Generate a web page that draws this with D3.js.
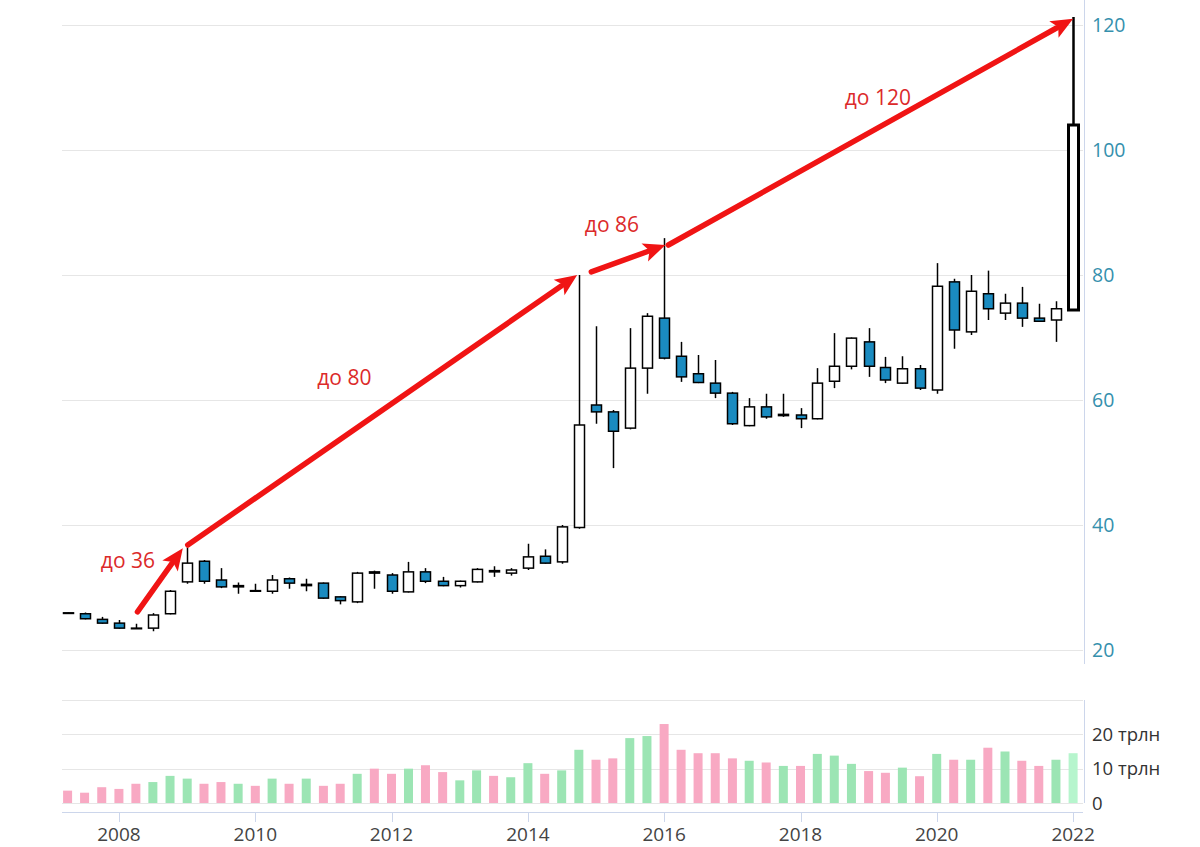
<!DOCTYPE html>
<html>
<head>
<meta charset="utf-8">
<script src="https://cdn.jsdelivr.net/npm/d3@7"></script>
<style>
  html, body { margin: 0; padding: 0; background: #fff; }
  svg { display: block; }
</style>
</head>
<body>
<div id="chart"></div>
<script>
// ---------- DATA ----------
const quarters = [
  "2007-04-01","2007-07-01","2007-10-01",
  "2008-01-01","2008-04-01","2008-07-01","2008-10-01",
  "2009-01-01","2009-04-01","2009-07-01","2009-10-01",
  "2010-01-01","2010-04-01","2010-07-01","2010-10-01",
  "2011-01-01","2011-04-01","2011-07-01","2011-10-01",
  "2012-01-01","2012-04-01","2012-07-01","2012-10-01",
  "2013-01-01","2013-04-01","2013-07-01","2013-10-01",
  "2014-01-01","2014-04-01","2014-07-01","2014-10-01",
  "2015-01-01","2015-04-01","2015-07-01","2015-10-01",
  "2016-01-01","2016-04-01","2016-07-01","2016-10-01",
  "2017-01-01","2017-04-01","2017-07-01","2017-10-01",
  "2018-01-01","2018-04-01","2018-07-01","2018-10-01",
  "2019-01-01","2019-04-01","2019-07-01","2019-10-01",
  "2020-01-01","2020-04-01","2020-07-01","2020-10-01",
  "2021-01-01","2021-04-01","2021-07-01","2021-10-01",
  "2022-01-01"
];
const opens  = [25.95,25.8,24.9, 24.3,23.5,23.5,25.8, 30.9,34.2,31.2,30.1, 29.5,29.4,31.4,30.3, 30.7,28.5,27.7,32.5,
                32.0,29.3,32.5,31.0, 30.3,30.9,32.7,32.3, 33.1,35.0,34.1,39.6, 59.2,58.1,55.5,65.1, 73.1,67.0,64.2,62.7,
                61.1,55.9,58.9,57.5, 57.6,57.0,63.0,65.4, 69.3,65.2,62.7,65.0, 61.6,78.9,70.9,77.0, 73.9,75.5,73.1,72.8, 74.4];
const highs  = [26.0,26.0,25.3, 24.8,24.2,25.9,29.6, 36.4,34.4,33.1,30.8, 30.6,32.0,31.6,31.4, 30.8,28.6,32.5,32.7,
                32.3,34.1,33.1,31.7, 31.1,33.1,33.4,33.1, 37.0,36.1,40.0,80.0, 71.8,58.4,71.5,73.9, 85.9,69.3,67.2,66.4,
                61.3,60.3,61.0,61.0, 58.7,65.1,70.7,70.0, 71.5,66.9,67.0,65.6, 81.9,79.4,80.0,80.7, 77.0,78.1,75.4,75.8, 121.3];
const lows   = [25.8,24.9,24.2, 23.4,23.4,23.0,25.7, 30.6,30.6,29.9,29.0, 29.3,29.0,29.8,29.4, 28.2,27.3,27.5,29.8,
                29.0,29.2,30.7,30.2, 30.0,30.8,31.7,31.9, 32.8,33.8,33.8,39.4, 56.2,49.1,55.3,61.0, 66.5,62.9,62.7,60.3,
                56.0,55.8,57.0,57.3, 55.5,56.9,61.9,64.9, 63.7,62.7,62.6,61.6, 61.0,68.2,70.4,72.8, 72.8,71.7,72.5,69.3, 74.4];
const closes = [25.85,25.0,24.3, 23.5,23.4,25.6,29.4, 33.9,31.0,30.1,30.3, 29.4,31.2,30.7,30.5, 28.3,27.9,32.3,32.3,
                29.4,32.5,31.0,30.3, 31.0,32.9,32.5,32.8, 34.9,33.9,39.7,56.0, 58.1,55.0,65.1,73.4, 66.7,63.7,62.8,61.1,
                56.2,58.9,57.3,57.7, 57.0,62.7,65.4,69.9, 65.4,63.2,65.0,61.9, 78.2,71.2,77.4,74.6, 75.5,73.1,72.6,74.6, 104.0];
const volumes = [3.6,3.0,4.6, 4.1,5.6,6.1,7.9, 7.1,5.6,6.1,5.6, 5.0,7.1,5.6,7.1, 5.0,5.6,8.5,10.0,
                 8.5,10.0,11.0,9.0, 6.6,9.5,7.9,7.5, 11.6,8.5,9.5,15.5, 12.6,13.0,18.9,19.5, 23.0,15.5,14.5,14.5,
                 13.0,12.3,11.8,10.8, 10.8,14.3,13.8,11.4, 9.3,8.8,10.3,7.8, 14.3,12.6,12.6,16.1, 15.0,12.3,10.8,12.6, 14.5];

const priceTicks  = [20, 40, 60, 80, 100, 120];
const volumeTicks = [0, 10, 20, 30];
const volumeTickLabels = ["0", "10 трлн", "20 трлн", ""];
const yearTicks   = [2008, 2010, 2012, 2014, 2016, 2018, 2020, 2022];

// annotation arrows in (quarter index, price)
const arrowLabels = ["до 36", "до 80", "до 86", "до 120"];
const arrowFrom   = [[4.1, 26.1], [7.05, 36.8], [30.73, 80.5], [35.25, 84.8]];
const arrowTo     = [[6.76, 36.3], [29.9, 80.0], [35.08, 84.8], [59.0, 121.0]];
const labelAt     = [[1.95, 33.1], [14.65, 62.4], [30.35, 86.9], [45.6, 107.2]];

// ---------- CHART ----------
const W = 1200, H = 847;
const left = 62, right = 1083;
const svg = d3.select("#chart").append("svg").attr("width", W).attr("height", H);

const parse = d3.utcParse("%Y-%m-%d");
const dates = quarters.map(parse);

const x = d3.scaleUtc().domain([Date.UTC(2007, 2, 2), Date.UTC(2022, 1, 23)]).range([left, right]);
const y = d3.scaleLinear().domain([20, 124]).range([650, 0]);
const yv = d3.scaleLinear().domain([0, 30]).range([803, 700]);
const xi = d3.scaleLinear().domain([0, dates.length - 1]).range([x(dates[0]), x(dates[dates.length - 1])]);

const grid = "#e6e6e6", axisCol = "#ccd6eb";
const font = "Open Sans, sans-serif";

// price grid
svg.append("g").selectAll("line").data(priceTicks).join("line")
  .attr("x1", left).attr("x2", right)
  .attr("y1", d => Math.round(y(d)) + 0.5).attr("y2", d => Math.round(y(d)) + 0.5)
  .attr("stroke", grid).attr("stroke-width", 1);

// right axis line main
svg.append("line").attr("x1", 1084.5).attr("x2", 1084.5).attr("y1", 0).attr("y2", 664)
  .attr("stroke", axisCol).attr("stroke-width", 1);

// price labels
svg.append("g").selectAll("text").data(priceTicks).join("text")
  .attr("x", 1092).attr("y", d => y(d) + 7)
  .attr("font-family", font).attr("font-size", 19.5)
  .attr("fill", "#3590ad").text(d => d);

// volume grid
svg.append("g").selectAll("line").data(volumeTicks).join("line")
  .attr("x1", left).attr("x2", right)
  .attr("y1", d => Math.round(yv(d)) + 0.5).attr("y2", d => Math.round(yv(d)) + 0.5)
  .attr("stroke", grid).attr("stroke-width", 1);
svg.append("line").attr("x1", 1084.5).attr("x2", 1084.5).attr("y1", yv(30)).attr("y2", yv(0))
  .attr("stroke", axisCol).attr("stroke-width", 1);
svg.append("g").selectAll("text").data(volumeTicks).join("text")
  .attr("x", 1092).attr("y", d => yv(d) + 6.5)
  .attr("font-family", font).attr("font-size", 18.5)
  .attr("fill", "#333").text((d, i) => volumeTickLabels[i]);

// x axis
svg.append("line").attr("x1", left).attr("x2", right).attr("y1", 812.5).attr("y2", 812.5)
  .attr("stroke", axisCol).attr("stroke-width", 1);
const yearDates = yearTicks.map(yr => new Date(Date.UTC(yr, 0, 1)));
svg.append("g").selectAll("line").data(yearDates).join("line")
  .attr("x1", d => Math.round(x(d)) + 0.5).attr("x2", d => Math.round(x(d)) + 0.5)
  .attr("y1", 812).attr("y2", 822).attr("stroke", axisCol);
svg.append("g").selectAll("text").data(yearDates).join("text")
  .attr("x", d => x(d)).attr("y", 841).attr("text-anchor", "middle")
  .attr("font-family", font).attr("font-size", 19)
  .attr("fill", "#444").text(d => d.getUTCFullYear());

// volume bars
const last = dates.length - 1;
svg.append("g").selectAll("rect").data(volumes).join("rect")
  .attr("x", (d, i) => x(dates[i]) - 4.5)
  .attr("width", 9)
  .attr("y", d => yv(d))
  .attr("height", d => yv(0) - yv(d))
  .attr("fill", (d, i) => i === last ? "#b6f5cd" : (closes[i] >= opens[i] ? "#9ce5b4" : "#f8a9c3"));

// candles
const cg = svg.append("g");
dates.forEach((dt, i) => {
  const cx = Math.round(x(dt)) + 0.5;
  const isLast = i === last;
  const sw = isLast ? 3 : 1.5;
  cg.append("line").attr("x1", cx).attr("x2", cx)
    .attr("y1", y(highs[i])).attr("y2", y(lows[i]))
    .attr("stroke", "#000").attr("stroke-width", isLast ? 2.5 : 1.5);
  const top = y(Math.max(opens[i], closes[i]));
  const bot = y(Math.min(opens[i], closes[i]));
  const up = closes[i] >= opens[i];
  const bw = 10;
  cg.append("rect")
    .attr("x", cx - bw / 2).attr("width", bw)
    .attr("y", top).attr("height", Math.max(0.5, bot - top))
    .attr("fill", up ? "#ffffff" : "#1a8bc0")
    .attr("stroke", "#000").attr("stroke-width", sw);
});

// arrows
const red = "#f01414";
const ag = svg.append("g");
arrowFrom.forEach((f, k) => {
  const x1 = xi(f[0]), y1 = y(f[1]);
  const x2 = xi(arrowTo[k][0]), y2 = y(arrowTo[k][1]);
  const dx = x2 - x1, dy = y2 - y1, len = Math.hypot(dx, dy);
  const ux = dx / len, uy = dy / len, px = -uy, py = ux;
  const headL = 22, headW = 9.5;
  const bx = x2 - ux * headL, by = y2 - uy * headL;
  ag.append("line").attr("x1", x1).attr("y1", y1)
    .attr("x2", bx + ux * 3).attr("y2", by + uy * 3)
    .attr("stroke", red).attr("stroke-width", 5.5).attr("stroke-linecap", "round");
  ag.append("path")
    .attr("d", `M${x2},${y2}L${bx + px * headW},${by + py * headW}L${bx + ux * 5},${by + uy * 5}L${bx - px * headW},${by - py * headW}Z`)
    .attr("fill", red);
  ag.append("text").attr("x", xi(labelAt[k][0])).attr("y", y(labelAt[k][1]))
    .attr("font-family", font).attr("font-size", 21)
    .attr("fill", "#dc2a2a").text(arrowLabels[k]);
});
</script>
</body>
</html>
